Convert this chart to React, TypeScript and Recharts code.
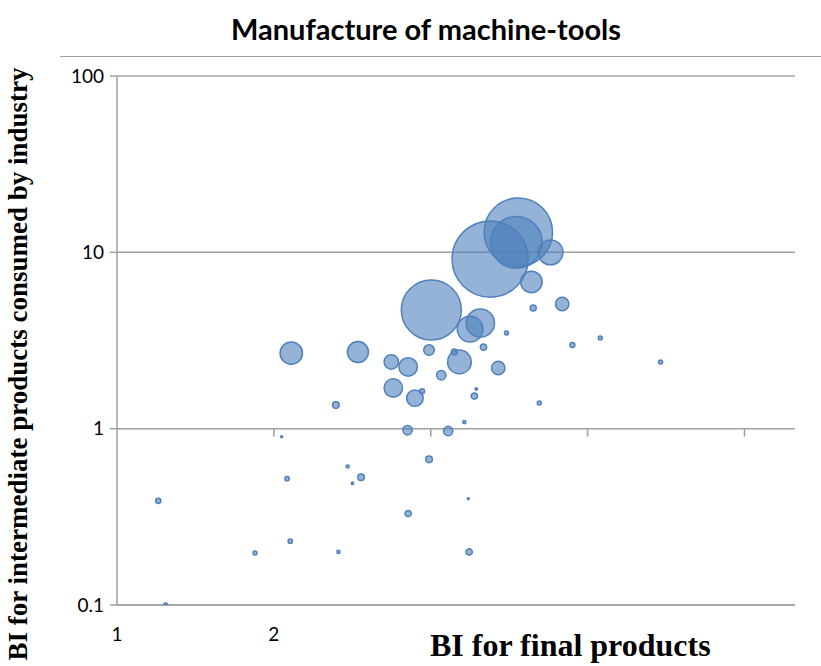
import { CartesianGrid, ReferenceDot, Scatter, ScatterChart, XAxis, YAxis, ZAxis } from "recharts"

// BI values (both axes logarithmic)
const finalBI = [
    5.2, 5.89, 5.84, 6.79, 6.24, 6.29, 7.15, 4.01, 4.76, 4.98,
    5.59, 5.05, 4.54, 4.44, 5.39, 7.48, 8.46, 11.04, 4.89, 4.85,
    6.46, 4.64, 4.32, 4.19, 2.16, 2.9, 3.36, 3.62, 3.39, 3.73,
    3.85, 3.97, 2.63, 3.61, 2.07, 2.77, 2.94, 2.83, 3.97, 3.62,
    4.72, 4.74, 2.66, 1.2, 2.12, 2.15, 1.84, 1.24,
]
const intermediateBI = [
    9.16, 13.0, 11.4, 10.0, 6.79, 4.83, 5.09, 4.71, 3.67, 3.97,
    3.49, 2.9, 2.39, 2.72, 2.21, 2.98, 3.27, 2.39, 1.68, 1.53,
    1.4, 1.09, 0.97, 2.01, 2.68, 2.72, 2.39, 2.24, 1.7, 1.49,
    1.63, 2.79, 1.36, 0.98, 0.9, 0.61, 0.53, 0.49, 0.67, 0.33,
    0.4, 0.2, 0.2, 0.39, 0.52, 0.23, 0.197, 0.1,
]
// relative bubble sizes (area)
const bubbleSize = [
    1450, 1170, 670, 155, 115, 9, 45, 900, 165, 200,
    4, 10, 140, 9, 45, 6, 4, 4, 1.5, 10,
    4, 2.5, 22, 22, 125, 110, 52, 85, 85, 68,
    6, 28, 11, 22, 1, 2.5, 11, 1.5, 11, 10,
    1, 10, 2.5, 7, 4.5, 4.5, 4, 4,
]

const xTicks = [1, 2, 4, 8, 16]
const xTickLabels = ["1", "2"]
const yTicks = [0.1, 1, 10, 100]

const data = finalBI.map((x, i) => ({ x, y: intermediateBI[i], z: bubbleSize[i] }))

const GRID = "#a0a0a0"
const BLUE = "#4f81bd"

const XTick = (props: any) => {
    const { x, y, index } = props
    const label = xTickLabels[index]
    if (!label) return null
    return (
        <text x={x} y={y + 34} textAnchor="middle" fill="#000" fontSize={19} fontFamily="Lato">
            {label}
        </text>
    )
}

export default function App() {
    return (
        <div style={{ position: "absolute", left: 0, top: 0, width: 821, height: 666, background: "#fff" }}>
            <div
                style={{
                    position: "absolute", left: 0, top: 11, width: 852, textAlign: "center",
                    fontFamily: "Lato", fontWeight: 700, fontSize: 29, color: "#000",
                }}
            >
                Manufacture of machine-tools
            </div>
            <div style={{ position: "absolute", left: 60, top: 56, width: 761, height: 0, borderTop: `1.5px solid ${GRID}` }} />
            <ScatterChart width={821} height={666} margin={{ top: 76, right: 26, left: 0, bottom: 31 }}>
                <CartesianGrid vertical={false} stroke={GRID} strokeWidth={1.5} />
                <XAxis
                    type="number"
                    dataKey="x"
                    scale="log"
                    domain={[1, 20]}
                    allowDataOverflow
                    ticks={xTicks}
                    height={30}
                    tickLine={false}
                    tickSize={0}
                    axisLine={{ stroke: GRID, strokeWidth: 1.5 }}
                    tick={<XTick />}
                />
                <YAxis
                    type="number"
                    dataKey="y"
                    scale="log"
                    domain={[0.1, 100]}
                    allowDataOverflow
                    ticks={yTicks}
                    width={117}
                    tickSize={7}
                    tickMargin={6}
                    tickLine={{ stroke: GRID, strokeWidth: 1.5 }}
                    axisLine={{ stroke: GRID, strokeWidth: 1.5 }}
                    tick={{ fill: "#000", fontSize: 19, fontFamily: "Lato" }}
                    tickFormatter={(v) => String(v)}
                />
                <ZAxis type="number" dataKey="z" domain={[0, 1600]} range={[0, Math.PI * 1600]} />
                {xTicks.slice(1).map((v) => (
                    <ReferenceDot
                        key={v}
                        x={v}
                        y={1}
                        r={0}
                        shape={(p: any) => (
                            <line x1={p.cx} y1={p.cy} x2={p.cx} y2={p.cy + 8} stroke={GRID} strokeWidth={1.5} />
                        )}
                    />
                ))}
                <Scatter
                    data={data}
                    fill={BLUE}
                    fillOpacity={0.6}
                    stroke={BLUE}
                    strokeWidth={1.5}
                    isAnimationActive={false}
                />
            </ScatterChart>
            <div
                style={{
                    position: "absolute", left: 430, top: 627, whiteSpace: "nowrap",
                    fontFamily: "Liberation Serif", fontWeight: 700, fontSize: 32, color: "#000",
                }}
            >
                BI for final products
            </div>
            <div
                style={{
                    position: "absolute", left: 18 - 350, top: 364 - 16, width: 700, height: 32,
                    lineHeight: "32px", textAlign: "center", transform: "rotate(-90deg)",
                    fontFamily: "Liberation Serif", fontWeight: 700, fontSize: 27, color: "#000", whiteSpace: "nowrap",
                }}
            >
                BI for intermediate products consumed by industry
            </div>
        </div>
    )
}
